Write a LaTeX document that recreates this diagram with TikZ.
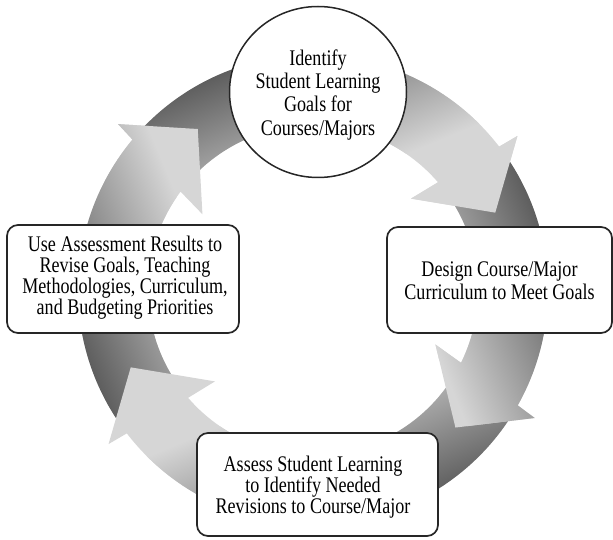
\documentclass[tikz,border=0pt]{standalone}
\usepackage{fontspec}
\setmainfont{Liberation Serif}[FakeStretch=0.81]
\usetikzlibrary{shapes.geometric}

\definecolor{ringdark}{HTML}{5A5A5A}
\definecolor{ringlight}{HTML}{D6D6D6}
\definecolor{edge}{HTML}{262626}

% Outline of one curved arrow of the cycle ring, centred on (C).
% #1 = angle of the tail, #2 = angle of the back edge of the head.
\newcommand\ringpath[2]{([shift={(C)}]{#1}:235)
  arc[start angle={#1}, end angle={#2-2.4}, radius=235]
  -- ([shift={(C)}]{#2-3}:256) -- ([shift={(C)}]{#2-17}:198)
  -- ([shift={(C)}]{#2+3}:134) -- ([shift={(C)}]{#2+0.8}:165)
  arc[start angle={#2+0.8}, end angle={#1}, radius=165] -- cycle}
% Head of an arrow alone
\newcommand\headpath[1]{([shift={(C)}]{#1-3}:256) -- ([shift={(C)}]{#1-17}:198)
  -- ([shift={(C)}]{#1+3}:134) -- cycle}
% Linear grey gradient (dark to light) turned by #1 around (C)
\newcommand\ringpaint[1]{%
  \begin{scope}[transform canvas={rotate around={#1:(C)}}]
    \fill[ringlight] ([shift={(C)}]-300,-300) rectangle ([shift={(C)}]300,300);
    \fill[ringdark] ([shift={(C)}]-300,-300) rectangle ([shift={(C)}]300,-239);
    \shade[bottom color=ringdark, top color=ringlight]
      ([shift={(C)}]-300,-240) rectangle ([shift={(C)}]300,-90);
  \end{scope}}

\begin{document}
\begin{tikzpicture}[x=1pt, y=1pt,
  stagebox/.style={draw=edge, line width=1.7pt, fill=white, rounded corners=11pt, inner sep=0pt},
  goalshape/.style={ellipse, draw=edge, line width=1.5pt, fill=white, inner sep=0pt,
    minimum width=177, minimum height=171},
  caption/.style={align=center, inner sep=0pt, text=black}]
\useasboundingbox (0,0) rectangle (613,539);
\coordinate (C) at (313,249);

% the four curved arrows of the cycle
\begin{scope}\clip \ringpath{137.6}{40}; \ringpaint{-157.5}\end{scope}
\begin{scope}\clip \ringpath{-145}{-217.4}; \ringpaint{-67.5}\end{scope}
\begin{scope}\clip \ringpath{-32}{-140}; \ringpaint{22.5}\end{scope}
\begin{scope}\clip \ringpath{35}{-27}; \ringpaint{-247.5}\end{scope}
% head of the first arrow lies over the tail of the second
\begin{scope}\clip \headpath{40}; \ringpaint{-157.5}\end{scope}

% stages
\node[goalshape] (goals) at (318,447) {};
\node[caption, font=\fontsize{22.3}{23.3}\selectfont] (goalsText) at (318,444.3)
  {Identify\\Student Learning\\Goals for\\Courses/Majors};

\node[stagebox, minimum width=225, minimum height=106] (design) at (499.5,259) {};
\node[caption, font=\fontsize{22.3}{23}\selectfont] (designText) at (499.5,258.4)
  {Design Course/Major\\Curriculum to Meet Goals};

\node[stagebox, minimum width=241, minimum height=103] (assess) at (317.5,54.5) {};
\node[caption, font=\fontsize{22.3}{21}\selectfont] (assessText) at (313,51.7)
  {Assess Student Learning\\to Identify Needed\\Revisions to Course/Major};

\node[stagebox, minimum width=232, minimum height=108] (revise) at (123,260) {};
\node[caption, font=\fontsize{22.3}{21}\selectfont] (reviseText) at (125,261.5)
  {Use Assessment Results to\\Revise Goals, Teaching\\Methodologies, Curriculum,\\and Budgeting Priorities};
\end{tikzpicture}
\end{document}
